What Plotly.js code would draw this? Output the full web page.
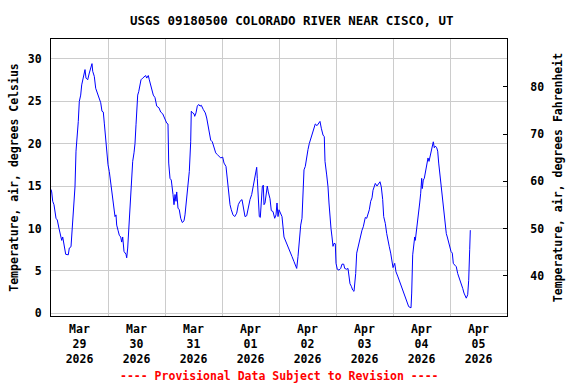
<!DOCTYPE html>
<html>
<head>
<meta charset="utf-8">
<script src="https://cdn.plot.ly/plotly-3.0.1.min.js"></script>
<style>html,body{margin:0;padding:0;background:#fff;}#chart{width:576px;height:384px;}</style>
</head>
<body>
<div id="chart"></div>
<script>
// Hours since 2026-03-29 00:00 (local)
const hoursFromMar29 = [
0,0.29,0.72,1.26,2.11,2.65,3.37,3.79,4.51,4.93,5.47,6.19,7.28,7.71,8.42,8.97,9.68,10.1,10.53,11.07,11.49,11.92,12.5,12.93,13.6,14.32,14.74,15.45,16.13,16.72,17.26,17.56,18.23,18.82,19.66,20.34,20.93,21.47,22.02,22.44,23.03,23.45,
24.0,24.55,25.14,25.56,25.98,26.53,26.95,27.37,27.66,28.21,28.76,29.35,29.77,30.19,30.74,31.58,31.87,32.29,32.72,33.26,33.56,33.98,34.4,34.95,35.37,35.79,36.08,36.5,36.93,37.47,37.89,38.61,39.28,39.87,40.29,40.97,41.39,41.98,42.53,43.07,43.79,44.51,45.47,46.19,47.03,47.71,
48.13,48.72,49.26,49.56,50.11,50.65,51.37,51.79,52.21,52.63,52.93,53.47,54.02,54.61,55.28,56.0,56.42,56.84,57.39,57.81,58.23,58.82,59.07,59.66,60.21,60.51,61.05,61.6,62.19,62.74,63.28,64.13,64.97,65.56,66.23,66.82,67.24,67.92,68.63,69.35,70.02,70.74,71.45,
72.29,72.84,73.68,74.23,74.82,75.37,75.92,76.63,77.35,78.19,78.86,79.58,80.42,80.97,81.68,82.4,82.95,83.79,84.51,85.18,85.77,86.19,86.61,86.86,87.28,87.71,88.13,88.55,88.97,89.39,89.68,90.11,90.53,91.07,91.49,92.21,92.76,93.47,94.19,94.74,95.16,95.58,
96.0,97.26,98.1,99.07,99.79,100.5,101.47,102.32,102.86,103.45,104.0,104.55,105.14,105.68,106.11,106.53,107.07,107.66,108.21,108.76,109.35,110.02,110.74,111.28,112.0,112.71,113.26,113.81,114.53,115.07,115.37,116.08,116.63,117.05,117.47,117.89,118.32,118.74,119.16,119.71,
120.0,120.55,121.26,121.98,122.53,123.24,123.66,124.5,125.05,125.47,125.89,126.44,127.03,127.58,127.87,128.29,128.71,129.26,129.81,130.4,130.95,131.49,131.79,132.34,132.93,133.47,134.02,134.61,135.16,135.58,136.13,136.55,137.26,137.98,138.53,139.07,139.66,140.08,140.76,141.35,141.89,142.44,143.03,143.58,
144.0,144.72,145.26,146.1,146.95,147.79,148.63,149.47,150.19,150.61,151.58,151.87,152.29,152.72,153.14,153.39,153.81,154.23,154.82,155.24,155.66,156.08,156.34,156.76,157.18,157.6,158.02,158.44,158.74,159.16,159.58,160.0,160.42,160.97,161.39,161.81,162.4,162.82,163.24,163.79,164.34,164.76,165.18,165.6,166.02,166.44,166.86,167.28,167.87,
168.42,168.97,169.39,169.98,170.65,171.24,171.79,172.34,172.93,173.35,173.89,174.44,174.86,175.45,175.87,176.29,176.55
];
// Air temperature, degrees Celsius
const tempC = [
14.6,14.3,13.2,12.8,11.2,11.0,10.0,9.4,8.6,9.0,7.85,6.96,6.9,7.7,7.85,10.0,13.2,14.9,19.1,20.6,22.6,24.95,25.7,26.9,27.9,28.7,27.7,27.5,28.3,29.1,29.4,28.5,27.9,26.5,25.7,25.2,24.8,23.8,23.7,22.4,20.6,18.7,
17.5,16.7,15.3,14.3,13.2,12.0,11.4,11.6,10.4,9.8,9.2,9.0,8.4,9.0,7.3,6.96,6.55,7.7,10.0,12.4,14.7,16.5,17.9,18.9,20.0,22.2,23.4,25.7,26.1,26.9,27.5,27.7,27.9,28.0,27.7,28.0,27.5,26.9,26.3,25.7,25.4,24.4,24.2,23.7,23.5,23.1,
22.7,22.4,22.3,17.7,15.9,15.7,14.0,12.8,14.0,13.2,14.3,12.4,12.2,11.2,10.7,10.9,11.6,12.8,14.3,15.5,16.7,20.2,23.8,23.6,23.5,23.2,23.6,24.4,24.6,24.4,24.5,24.0,23.6,23.0,22.0,21.2,20.4,20.2,19.5,18.9,18.7,18.5,18.3,
18.4,17.7,17.3,15.5,14.0,12.8,12.2,11.6,11.4,11.8,12.8,13.2,13.4,12.6,11.4,11.5,12.4,13.4,14.0,14.9,16.1,16.5,17.2,15.9,13.0,11.4,11.3,14.0,14.9,15.1,12.8,13.0,14.3,15.0,14.3,13.5,12.1,12.0,11.2,11.6,13.0,11.4,
12.2,11.4,9.0,8.4,7.85,7.3,6.7,6.1,5.8,5.3,6.7,8.6,10.4,11.2,13.75,16.9,17.3,18.5,19.3,20.0,20.6,21.2,21.8,22.3,22.1,22.4,22.6,21.8,21.0,20.8,17.9,16.3,14.9,13.0,11.2,10.0,9.0,7.9,8.25,8.2,
5.9,5.2,5.1,5.3,5.8,5.8,5.3,5.2,5.3,4.5,3.5,3.2,2.75,2.6,3.5,4.7,7.1,7.85,8.6,9.2,9.8,10.2,10.6,11.3,11.2,11.6,12.2,13.2,13.6,14.5,14.9,15.3,15.0,15.3,15.5,14.9,13.4,11.4,10.6,9.4,8.4,7.85,7.1,6.1,
5.4,5.9,4.9,4.3,3.6,2.95,2.4,1.6,1.2,0.8,0.66,2.4,6.9,8.1,9.0,8.6,9.8,11.0,12.4,13.0,14.15,15.9,14.7,15.7,15.9,16.6,17.0,17.7,18.3,17.9,18.5,18.9,19.3,20.2,19.5,19.7,19.5,19.1,17.7,16.3,14.9,13.6,12.6,11.4,10.0,9.4,9.0,8.6,8.05,
7.3,7.1,5.9,5.7,5.5,4.7,4.3,3.9,3.5,2.95,2.4,2.15,1.8,2.2,3.9,7.5,9.8
];
const tickHours = [12,36,60,84,108,132,156,180];
const tickLabels = ["Mar<br>29<br>2026","Mar<br>30<br>2026","Mar<br>31<br>2026","Apr<br>01<br>2026","Apr<br>02<br>2026","Apr<br>03<br>2026","Apr<br>04<br>2026","Apr<br>05<br>2026"];
const yTicksC = [0,5,10,15,20,25,30];
const yTicksF = [40,50,60,70,80];
const rangeC = [-0.3, 32.3];
const rangeF = rangeC.map(c => c * 9 / 5 + 32);
const tempF = tempC.map(c => c * 9 / 5 + 32);

const mono = 'DejaVu Sans Mono, monospace';
const traces = [
  {x: hoursFromMar29, y: tempC, type: 'scatter', mode: 'lines',
   line: {color: '#0000FF', width: 1}, hoverinfo: 'skip', showlegend: false},
  {x: hoursFromMar29, y: tempF, type: 'scatter', mode: 'lines', yaxis: 'y2',
   line: {color: 'rgba(0,0,0,0)', width: 0}, hoverinfo: 'skip', showlegend: false}
];
const layout = {
  width: 576, height: 384,
  margin: {l: 51, r: 69, t: 39, b: 68},
  paper_bgcolor: '#fff', plot_bgcolor: '#fff',
  font: {family: mono, size: 11.5, color: '#000', weight: 'bold'},
  title: {text: 'USGS 09180500 COLORADO RIVER NEAR CISCO, UT',
          font: {family: mono, size: 12.5, color: '#000', weight: 'bold'},
          x: 0.528, xref: 'paper', xanchor: 'center', y: 0.945, yref: 'container', yanchor: 'middle'},
  xaxis: {range: [0, 192], tickmode: 'array', tickvals: tickHours, ticktext: tickLabels,
          showgrid: false, zeroline: false, showline: true, linecolor: '#000', linewidth: 1, mirror: true,
          ticks: '', ticklabelstandoff: 2, tickfont: {family: mono, size: 11.5, weight: 'bold'},
          minor: {tick0: 0, dtick: 24, showgrid: true, gridcolor: '#cccccc', gridwidth: 1, ticks: ''},
          fixedrange: true},
  yaxis: {range: rangeC, tickmode: 'array', tickvals: yTicksC, showgrid: true, gridcolor: '#cccccc', gridwidth: 1,
          zeroline: false, showline: true, linecolor: '#000', linewidth: 1, mirror: true, ticks: '',
          ticklabelstandoff: 6, tickfont: {family: mono, size: 11.5, weight: 'bold'},
          title: {text: 'Temperature, air, degrees Celsius', standoff: 6,
                  font: {family: mono, size: 11.5, weight: 'bold'}},
          fixedrange: true},
  yaxis2: {range: rangeF, overlaying: 'y', side: 'right', tickmode: 'array', tickvals: yTicksF,
           showgrid: false, zeroline: false, showline: true, linecolor: '#000', linewidth: 1,
           ticks: 'inside', ticklen: 4, tickcolor: '#000', ticklabelstandoff: 20,
           tickfont: {family: mono, size: 11.5, weight: 'bold'},
           title: {text: 'Temperature, air, degrees Fahrenheit', standoff: 10,
                   font: {family: mono, size: 11.5, weight: 'bold'}},
           fixedrange: true},
  annotations: [{text: '---- Provisional Data Subject to Revision ----', xref: 'paper', yref: 'paper',
                 x: 0.5, y: -0.215, xanchor: 'center', yanchor: 'middle', showarrow: false,
                 font: {family: mono, size: 11.5, color: '#FF0000', weight: 'bold'}}]
};
Plotly.newPlot('chart', traces, layout, {staticPlot: true, displayModeBar: false});
</script>
</body>
</html>
